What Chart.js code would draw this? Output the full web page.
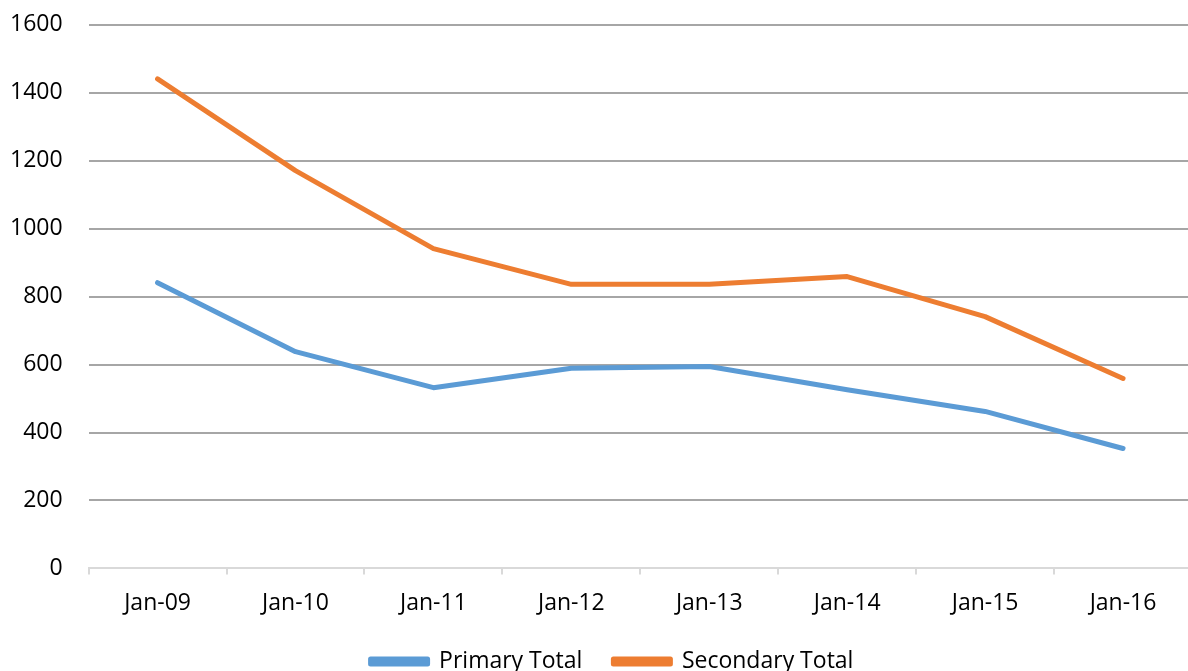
<!DOCTYPE html>
<html>
<head>
<meta charset="utf-8">
<script src="https://cdn.jsdelivr.net/npm/chart.js@4.4.1/dist/chart.umd.min.js"></script>
<style>
html,body{margin:0;padding:0;background:#fff;overflow:hidden;width:1188px;height:671px;position:relative;}
#wrap{position:absolute;left:-25px;top:-15px;width:1221px;height:686px;}
</style>
</head>
<body>
<div id="wrap"><canvas id="c"></canvas></div>
<script>
const categories = ["Jan-09","Jan-10","Jan-11","Jan-12","Jan-13","Jan-14","Jan-15","Jan-16"];
const primaryTotal = [841, 638, 532, 589, 594, 526, 462, 353];
const secondaryTotal = [1441, 1171, 941, 836, 836, 859, 741, 559];
const yTicks = [0, 200, 400, 600, 800, 1000, 1200, 1400, 1600];

const FONT = "'Open Sans', 'Liberation Sans', sans-serif";

const legendShift = {
  id: 'legendShift',
  afterLayout(chart) {
    const lg = chart.legend;
    if (lg) { lg.left += 24; lg.right += 24; lg.top -= 13; lg.bottom -= 13; }
  }
};

new Chart(document.getElementById('c'), {
  type: 'line',
  data: {
    labels: categories,
    datasets: [
      {label: 'Primary Total', data: primaryTotal, borderColor: '#5b9bd5', backgroundColor: '#5b9bd5',
       borderWidth: 5, pointRadius: 0, tension: 0, borderCapStyle: 'round', borderJoinStyle: 'round'},
      {label: 'Secondary Total', data: secondaryTotal, borderColor: '#ed7d31', backgroundColor: '#ed7d31',
       borderWidth: 5, pointRadius: 0, tension: 0, borderCapStyle: 'round', borderJoinStyle: 'round'}
    ]
  },
  plugins: [legendShift],
  options: {
    responsive: true,
    maintainAspectRatio: false,
    animation: false,
    layout: {padding: {top: 0, left: 9, right: 4, bottom: -25}},
    plugins: {
      tooltip: {enabled: false},
      legend: {
        position: 'bottom',
        labels: {
          boxWidth: 57, boxHeight: 5, padding: 31,
          color: '#000', font: {family: FONT, size: 23}
        }
      }
    },
    scales: {
      x: {
        offset: true,
        grid: {offset: true, drawOnChartArea: false, drawTicks: true, tickLength: 6, color: '#d9d9d9', lineWidth: 2},
        border: {display: true, color: '#d9d9d9', width: 2},
        ticks: {color: '#000', font: {family: FONT, size: 23}, padding: 15, maxRotation: 0}
      },
      y: {
        min: 0, max: 1600,
        afterBuildTicks: (axis) => { axis.ticks = yTicks.map(v => ({value: v})); },
        grid: {drawTicks: false, lineWidth: 2,
               color: (ctx) => (ctx.tick && ctx.tick.value === 0) ? '#d9d9d9' : '#a6a6a6'},
        border: {display: false},
        ticks: {color: '#000', font: {family: FONT, size: 23}, padding: 26,
                callback: (v) => String(v)}
      }
    }
  }
});
</script>
</body>
</html>
